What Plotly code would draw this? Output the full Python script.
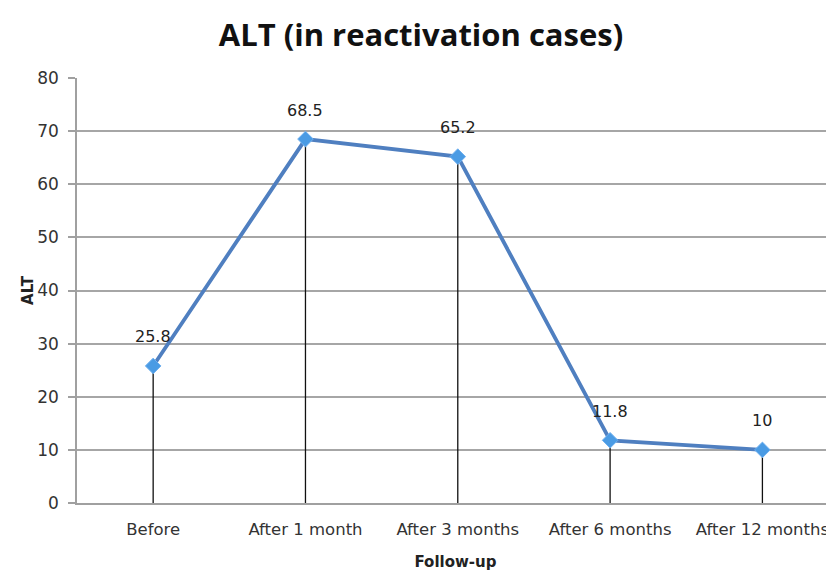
import plotly.graph_objects as go

categories = ["Before", "After 1 month", "After 3 months", "After 6 months", "After 12 months"]
alt_values = [25.8, 68.5, 65.2, 11.8, 10]
label_texts = ["25.8", "68.5", "65.2", "11.8", "10"]
y_ticks = [0, 10, 20, 30, 40, 50, 60, 70, 80]

fig = go.Figure()

fig.add_trace(go.Scatter(
    x=categories, y=alt_values,
    mode="lines+markers",
    line=dict(color="#4f7fc0", width=3.8),
    marker=dict(symbol="diamond", size=12, color="#4a9be4",
                line=dict(color="#6fb0ef", width=1)),
    error_y=dict(type="data", symmetric=False, array=[0]*len(alt_values),
                 arrayminus=alt_values, color="#111111", thickness=1.3, width=0),
    hoverinfo="x+y", showlegend=False,
))

for c, v, t in zip(categories, alt_values, label_texts):
    fig.add_annotation(x=c, y=v, text=t, showarrow=False, yshift=29,
                       font=dict(family="DejaVu Sans", size=16, color="#222222"))

fig.update_layout(
    width=826, height=563,
    margin=dict(l=69, r=0, t=70, b=68),
    paper_bgcolor="white", plot_bgcolor="white",
    title=dict(text="<b>ALT (in reactivation cases)</b>", x=0.5, xanchor="center",
               y=0.952, yanchor="middle",
               font=dict(family="Open Sans", size=31, color="#111111")),
    font=dict(family="DejaVu Sans", size=16, color="#333333"),
)

fig.update_xaxes(
    type="category", range=[-0.5, 4.47], automargin=False,
    showgrid=False, showline=True, linecolor="#a0a0a0", linewidth=1.5,
    ticks="outside", ticklen=10, tickcolor="rgba(0,0,0,0)",
    tickfont=dict(family="DejaVu Sans", size=16.5, color="#333333"),
    title=dict(text="<b>Follow-up</b>", standoff=21,
               font=dict(family="DejaVu Sans", size=15, color="#222222")),
)

fig.update_yaxes(
    range=[0, 80], tickvals=y_ticks, automargin=False,
    showgrid=True, gridcolor="#a6a6a6", gridwidth=1.5,
    showline=True, linecolor="#a0a0a0", linewidth=1.5,
    ticks="outside", ticklen=7, tickcolor="#a0a0a0", tickwidth=1.5,
    zeroline=False, ticklabelstandoff=6,
    tickfont=dict(family="DejaVu Sans", size=17, color="#333333"),
    title=dict(text="<b>ALT</b>", standoff=0,
               font=dict(family="DejaVu Sans", size=15, color="#222222")),
)

fig.write_html("out.html")
